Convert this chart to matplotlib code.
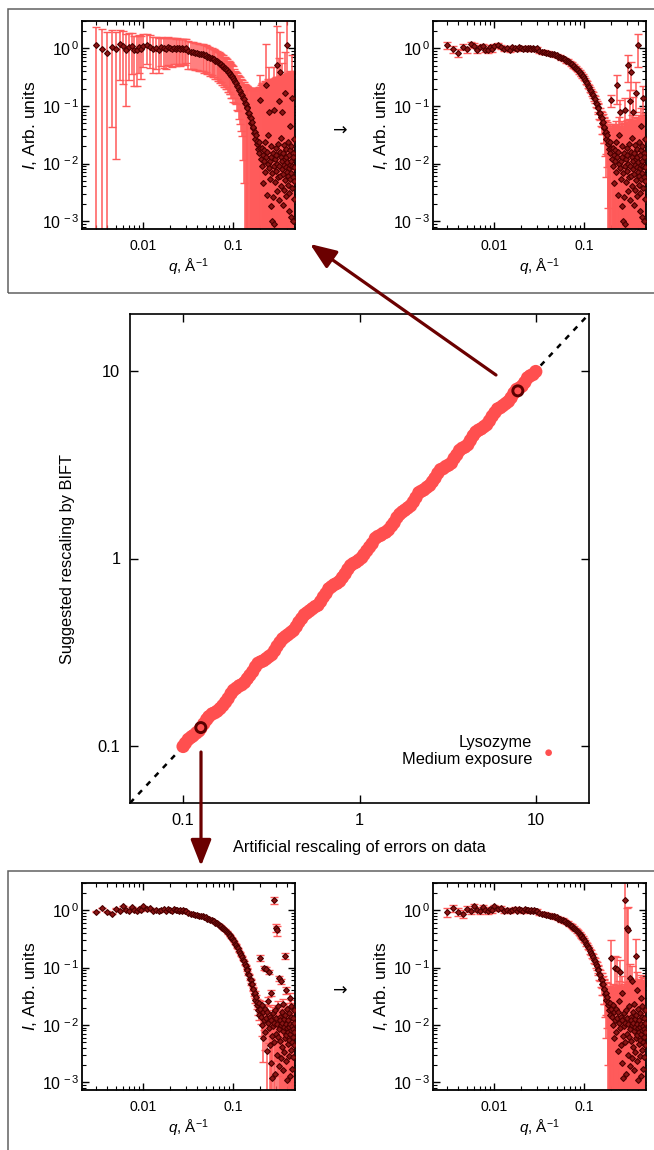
import numpy as np
import matplotlib
matplotlib.use("Agg")
import matplotlib.pyplot as plt
from matplotlib.patches import Rectangle, FancyArrowPatch
from matplotlib.ticker import LogLocator, FixedLocator, FixedFormatter, NullLocator, NullFormatter

plt.rcParams['font.family'] = ['Liberation Sans', 'DejaVu Sans']
plt.rcParams['mathtext.fontset'] = 'custom'
plt.rcParams['mathtext.rm'] = 'Liberation Sans'
plt.rcParams['mathtext.it'] = 'Liberation Sans:italic'

# ---------------- main scatter data ----------------
artificial = [0.100, 0.103, 0.107, 0.111, 0.114, 0.119, 0.123, 0.126, 0.131, 0.136,
              0.140, 0.146, 0.151, 0.156, 0.162, 0.168, 0.174, 0.180, 0.187, 0.193,
              0.200, 0.208, 0.215, 0.223, 0.231, 0.239, 0.248, 0.257, 0.266, 0.276,
              0.286, 0.296, 0.307, 0.318, 0.330, 0.341, 0.354, 0.367, 0.380, 0.393,
              0.408, 0.422, 0.438, 0.453, 0.470, 0.487, 0.504, 0.522, 0.541, 0.561,
              0.581, 0.602, 0.624, 0.646, 0.670, 0.694, 0.719, 0.745, 0.772, 0.800,
              0.829, 0.859, 0.890, 0.922, 0.955, 0.990, 1.03, 1.06, 1.10, 1.14,
              1.18, 1.23, 1.27, 1.32, 1.36, 1.41, 1.46, 1.52, 1.57, 1.63,
              1.69, 1.75, 1.81, 1.88, 1.95, 2.02, 2.09, 2.17, 2.24, 2.32,
              2.41, 2.50, 2.59, 2.68, 2.78, 2.88, 2.98, 3.09, 3.20, 3.32,
              3.44, 3.56, 3.69, 3.82, 3.96, 4.11, 4.25, 4.41, 4.57, 4.73,
              4.90, 5.08, 5.26, 5.45, 5.65, 5.86, 6.07, 6.29, 6.51, 6.75,
              6.99, 7.24, 7.51, 7.78, 8.06, 8.35, 8.65, 8.97, 9.29, 9.63, 9.98]
suggested = [0.100, 0.104, 0.109, 0.112, 0.114, 0.118, 0.121, 0.125, 0.132, 0.139,
             0.144, 0.149, 0.151, 0.154, 0.159, 0.165, 0.172, 0.180, 0.191, 0.199,
             0.204, 0.210, 0.213, 0.219, 0.229, 0.239, 0.250, 0.265, 0.277, 0.282,
             0.286, 0.293, 0.301, 0.308, 0.323, 0.341, 0.358, 0.374, 0.384, 0.393,
             0.404, 0.414, 0.434, 0.458, 0.479, 0.502, 0.514, 0.527, 0.541, 0.555,
             0.564, 0.590, 0.624, 0.652, 0.690, 0.708, 0.726, 0.738, 0.757, 0.792,
             0.829, 0.876, 0.917, 0.940, 0.955, 0.980, 1.01, 1.05, 1.10, 1.15,
             1.20, 1.28, 1.31, 1.33, 1.36, 1.38, 1.42, 1.49, 1.55, 1.65,
             1.72, 1.77, 1.81, 1.86, 1.91, 2.00, 2.11, 2.24, 2.28, 2.32,
             2.39, 2.45, 2.56, 2.68, 2.84, 2.97, 3.01, 3.09, 3.14, 3.22,
             3.41, 3.56, 3.76, 3.86, 3.92, 4.03, 4.25, 4.50, 4.71, 4.82,
             4.90, 5.03, 5.15, 5.40, 5.71, 5.98, 6.25, 6.35, 6.51, 6.68,
             6.85, 7.17, 7.59, 7.94, 8.06, 8.27, 8.65, 9.15, 9.38, 9.53, 9.88]

# highlighted cases: (artificial, suggested)
case_top = (7.9, 7.8)
case_bot = (0.126, 0.126)

# ---------------- SAXS curve data ----------------
q_A = [0.0030, 0.0035, 0.0040, 0.0045, 0.0050, 0.0055, 0.0060, 0.0065, 0.0070, 0.0075,
       0.0080, 0.0085, 0.0090, 0.0095, 0.0100]
q_B = [0.011, 0.012, 0.013, 0.014, 0.015, 0.016, 0.017, 0.018, 0.019, 0.020,
       0.021, 0.022, 0.023, 0.024, 0.025, 0.026, 0.027, 0.028, 0.029, 0.030]
q_C = [0.032, 0.034, 0.036, 0.038, 0.040, 0.042, 0.044, 0.046, 0.048, 0.050,
       0.052, 0.054, 0.056, 0.058, 0.060, 0.062, 0.064, 0.066, 0.068, 0.070,
       0.072, 0.074, 0.076, 0.078, 0.080, 0.082, 0.084, 0.086, 0.088, 0.090,
       0.092, 0.094, 0.096, 0.098, 0.100]
q_D = [0.103, 0.106, 0.109, 0.112, 0.115, 0.118, 0.121, 0.124, 0.127, 0.130,
       0.133, 0.136, 0.139, 0.142, 0.145, 0.148, 0.151, 0.154, 0.157, 0.160,
       0.163, 0.166, 0.169, 0.172, 0.175, 0.178, 0.181, 0.184, 0.187, 0.190,
       0.193, 0.196, 0.199]
q_E = [0.202, 0.205, 0.208, 0.211, 0.214, 0.217, 0.220, 0.223, 0.226, 0.229,
       0.232, 0.235, 0.238, 0.241, 0.244, 0.247, 0.250, 0.253, 0.256, 0.259,
       0.262, 0.265, 0.268, 0.271, 0.274, 0.277, 0.280, 0.283, 0.286, 0.289,
       0.292, 0.295, 0.298, 0.301, 0.304, 0.307, 0.310, 0.313, 0.316, 0.319,
       0.322, 0.325, 0.328, 0.331, 0.334, 0.337, 0.340, 0.343, 0.346, 0.349,
       0.352, 0.355, 0.358, 0.361, 0.364, 0.367, 0.370, 0.373, 0.376, 0.379,
       0.382, 0.385, 0.388, 0.391, 0.394, 0.397, 0.400, 0.403, 0.406, 0.409,
       0.412, 0.415, 0.418, 0.421, 0.424, 0.427, 0.430, 0.433, 0.436, 0.439,
       0.442, 0.445, 0.448, 0.451, 0.454, 0.457, 0.460, 0.463, 0.466, 0.469,
       0.472, 0.475, 0.478, 0.481]

I_top_A = [1.14, 0.97, 0.84, 1.07, 0.96, 1.19, 1.11, 0.93, 1.07, 1.11,
           0.95, 0.93, 1.06, 0.97, 1.12]
I_top_B = [1.17, 1.07, 0.98, 1.02, 0.95, 1.05, 1.00, 0.97, 1.04, 1.01,
           0.99, 1.03, 0.98, 1.02, 1.00, 0.97, 1.01, 0.99, 0.98, 1.00]
I_bot_A = [0.94, 1.10, 0.95, 0.87, 1.07, 0.98, 1.20, 1.03, 0.97, 1.14,
           1.02, 0.96, 1.07, 1.00, 1.17]
I_bot_B = [1.04, 1.10, 0.98, 1.02, 0.96, 1.03, 1.06, 0.99, 1.04, 1.01,
           0.98, 1.05, 1.00, 1.02, 0.97, 1.01, 0.99, 1.00, 0.97, 0.98]
I_C = [0.89, 0.87, 0.87, 0.84, 0.84, 0.81, 0.80, 0.79, 0.76, 0.76,
       0.72, 0.72, 0.68, 0.68, 0.65, 0.645, 0.61, 0.605, 0.575, 0.565,
       0.54, 0.535, 0.50, 0.495, 0.465, 0.46, 0.435, 0.425, 0.395, 0.39,
       0.365, 0.36, 0.335, 0.33, 0.305]
I_D = [0.288, 0.262, 0.252, 0.226, 0.216, 0.193, 0.183, 0.163, 0.156, 0.138,
       0.131, 0.114, 0.108, 0.095, 0.091, 0.077, 0.075, 0.064, 0.062, 0.051,
       0.052, 0.042, 0.043, 0.034, 0.036, 0.027, 0.031, 0.022, 0.025, 0.018,
       0.024, 0.015, 0.019]
I_top_E = [0.125, 0.012, 0.019, 0.009, 0.014, 0.0046, 0.017, 0.011, 0.024, 0.0072,
           0.23, 0.013, 0.0028, 0.016, 0.010, 0.031, 0.0085, 0.078, 0.0055, 0.011,
           0.020, 0.0018, 0.013, 0.0010, 0.0068, 0.015, 0.0026, 0.009, 0.0009, 0.085,
           0.012, 0.0048, 0.019, 0.0075, 0.014, 0.0033, 0.51, 0.010, 0.022, 0.0058,
           0.12, 0.0090, 0.0023, 0.016, 0.39, 0.0062, 0.013, 0.0040, 0.028, 0.0079,
           0.011, 0.080, 0.0019, 0.015, 0.0065, 0.021, 0.0095, 0.0035, 0.012, 0.0052,
           0.17, 0.0088, 0.018, 0.0027, 0.013, 0.0070, 1.14, 0.0105, 0.0042, 0.024,
           0.0060, 0.0015, 0.014, 0.0083, 0.0031, 0.017, 0.0096, 0.0054, 0.045, 0.0012,
           0.011, 0.0068, 0.020, 0.0038, 0.14, 0.0091, 0.0010, 0.015, 0.0058, 0.013,
           0.0024, 0.0087, 0.027, 0.0049]
I_bot_E = [0.15, 0.014, 0.022, 0.010, 0.0165, 0.006, 0.10, 0.012, 0.019, 0.0075,
           0.013, 0.095, 0.0035, 0.017, 0.011, 0.026, 0.085, 0.009, 0.0045, 0.014,
           0.0022, 0.012, 0.036, 0.0065, 0.0012, 0.016, 0.0095, 0.005, 1.5, 0.011,
           0.0014, 0.018, 0.0070, 0.50, 0.013, 0.45, 0.0030, 0.0105, 0.021, 0.0062,
           0.0085, 0.065, 0.0019, 0.014, 0.0052, 0.012, 0.058, 0.0026, 0.0098, 0.017,
           0.0041, 0.011, 0.0016, 0.023, 0.0078, 0.0125, 0.0034, 0.0092, 0.16, 0.0058,
           0.015, 0.0023, 0.0105, 0.0066, 0.040, 0.0011, 0.0088, 0.019, 0.0047, 0.012,
           0.0074, 0.0029, 0.016, 0.0093, 0.0055, 0.030, 0.0013, 0.0105, 0.0069, 0.014,
           0.0037, 0.0082, 0.021, 0.0050, 0.0096, 0.0017, 0.013, 0.0062, 0.0085, 0.0028,
           0.011, 0.0044, 0.0075, 0.018]

# original (unscaled) errors
sig_A = [0.16, 0.15, 0.14, 0.13, 0.12, 0.115, 0.11, 0.105, 0.10, 0.095,
         0.092, 0.09, 0.087, 0.085, 0.082]
sig_B = [0.080, 0.078, 0.076, 0.074, 0.072, 0.070, 0.069, 0.068, 0.066, 0.065,
         0.064, 0.063, 0.062, 0.061, 0.060, 0.060, 0.059, 0.058, 0.058, 0.057]
sig_C = [0.056, 0.055, 0.054, 0.053, 0.052, 0.051, 0.050, 0.049, 0.048, 0.047,
         0.046, 0.045, 0.044, 0.043, 0.042, 0.041, 0.040, 0.039, 0.038, 0.037,
         0.036, 0.035, 0.034, 0.033, 0.032, 0.031, 0.030, 0.029, 0.028, 0.027,
         0.026, 0.025, 0.025, 0.024, 0.024]
sig_D = [0.019, 0.019, 0.018, 0.018, 0.017, 0.017, 0.017, 0.016, 0.016, 0.016,
         0.016, 0.016, 0.016, 0.016, 0.017, 0.017, 0.017, 0.018, 0.018, 0.018,
         0.019, 0.019, 0.020, 0.020, 0.021, 0.021, 0.022, 0.022, 0.023, 0.023,
         0.024, 0.024, 0.025]
sig_top_E = [0.028, 0.028, 0.029, 0.029, 0.030, 0.030, 0.030, 0.031, 0.031, 0.031,
             0.12, 0.032, 0.032, 0.032, 0.033, 0.033, 0.033, 0.05, 0.034, 0.034,
             0.034, 0.035, 0.035, 0.035, 0.035, 0.036, 0.036, 0.036, 0.036, 0.05,
             0.037, 0.037, 0.037, 0.037, 0.038, 0.038, 0.25, 0.038, 0.038, 0.039,
             0.07, 0.039, 0.039, 0.039, 0.20, 0.040, 0.040, 0.040, 0.040, 0.040,
             0.041, 0.06, 0.041, 0.041, 0.041, 0.042, 0.042, 0.042, 0.042, 0.042,
             0.09, 0.043, 0.043, 0.043, 0.043, 0.043, 0.65, 0.044, 0.044, 0.044,
             0.044, 0.044, 0.045, 0.045, 0.045, 0.045, 0.045, 0.046, 0.046, 0.046,
             0.046, 0.046, 0.047, 0.047, 0.08, 0.047, 0.047, 0.048, 0.048, 0.048,
             0.048, 0.049, 0.049, 0.049]
sig_bot_E = [0.15, 0.028, 0.029, 0.029, 0.030, 0.030, 0.06, 0.031, 0.031, 0.031,
             0.032, 0.06, 0.032, 0.032, 0.033, 0.033, 0.05, 0.033, 0.034, 0.034,
             0.034, 0.035, 0.035, 0.035, 0.035, 0.036, 0.036, 0.036, 1.6, 0.036,
             0.037, 0.037, 0.037, 0.6, 0.038, 0.7, 0.038, 0.038, 0.038, 0.039,
             0.039, 0.05, 0.039, 0.039, 0.040, 0.040, 0.05, 0.040, 0.040, 0.040,
             0.041, 0.041, 0.041, 0.041, 0.041, 0.042, 0.042, 0.042, 0.15, 0.042,
             0.043, 0.043, 0.043, 0.043, 0.043, 0.043, 0.044, 0.044, 0.044, 0.044,
             0.044, 0.044, 0.045, 0.045, 0.045, 0.045, 0.045, 0.046, 0.046, 0.046,
             0.046, 0.046, 0.047, 0.047, 0.047, 0.047, 0.047, 0.048, 0.048, 0.048,
             0.048, 0.049, 0.049, 0.049]

q = np.array(q_A + q_B + q_C + q_D + q_E)
I_top = np.array(I_top_A + I_top_B + I_C + I_D + I_top_E)
I_bot = np.array(I_bot_A + I_bot_B + I_C + I_D + I_bot_E)
sig_top = np.array(sig_A + sig_B + sig_C + sig_D + sig_top_E)
sig_bot = np.array(sig_A + sig_B + sig_C + sig_D + sig_bot_E)

# ---------------- styling ----------------
RED = '#ff4f4f'
ERR = '#ff5a5a'
DARK = '#5a0000'
ARROW = '#6b0000'
FS_MAIN = 11.8

W, H = 654, 1150
fig = plt.figure(figsize=(W / 100, H / 100), dpi=100)


def fig_rect(x0, y0, x1, y1):
    """pixel box (top-left origin) -> figure fraction rect"""
    return [x0 / W, 1 - y1 / H, (x1 - x0) / W, (y1 - y0) / H]


# frames
fig.add_artist(Rectangle((8 / W, 1 - 293 / H), 1.0, (293 - 9) / H, transform=fig.transFigure,
                         fill=False, ec='#606060', lw=1.1))
fig.add_artist(Rectangle((8 / W, -0.05), 1.0, 0.05 + 1 - 871 / H, transform=fig.transFigure,
                         fill=False, ec='#606060', lw=1.1))


def small_panel(rect, I, err):
    ax = fig.add_axes(rect)
    lower = np.minimum(err, I * (1 - 1e-6))
    ax.errorbar(q, I, yerr=[lower, err], fmt='none', ecolor=ERR, elinewidth=1.1,
                capsize=2.8, capthick=1.0, zorder=2)
    ax.plot(q, I, ls='none', marker='D', ms=3.0, mfc='#8a1515', mec='#4a0000',
            mew=0.8, zorder=3)
    ax.set_xscale('log')
    ax.set_yscale('log')
    ax.set_xlim(0.0021, 0.49)
    ax.set_ylim(7.3e-4, 3.0)
    ax.xaxis.set_major_locator(FixedLocator([0.01, 0.1]))
    ax.xaxis.set_major_formatter(FixedFormatter(['0.01', '0.1']))
    ax.xaxis.set_minor_locator(LogLocator(base=10, subs=np.arange(2, 10)))
    ax.xaxis.set_minor_formatter(NullFormatter())
    ax.yaxis.set_major_locator(FixedLocator([1e-3, 1e-2, 1e-1, 1e0]))
    ax.yaxis.set_major_formatter(FixedFormatter([r'10$^{\,-3}$', r'10$^{\,-2}$',
                                                 r'10$^{\,-1}$', r'10$^{\,0}$']))
    ax.yaxis.set_minor_locator(LogLocator(base=10, subs=np.arange(2, 10)))
    ax.yaxis.set_minor_formatter(NullFormatter())
    ax.tick_params(which='both', direction='in', top=True, right=True)
    ax.tick_params(which='major', length=5, width=1.0)
    ax.tick_params(which='minor', length=2.8, width=0.8)
    ax.tick_params(axis='x', pad=7, labelsize=10.2)
    ax.tick_params(axis='y', pad=2, labelsize=11.5)
    for s in ax.spines.values():
        s.set_linewidth(1.3)
    ax.set_ylabel(r'$I$, Arb. units', fontsize=12.5, labelpad=2)
    ax.set_xlabel(r'$q$, Å$^{-1}$', fontsize=11, labelpad=3)
    return ax


xt, yt = case_top
xb, yb = case_bot
small_panel(fig_rect(82, 21, 295, 229), I_top, sig_top * xt)
small_panel(fig_rect(433, 21, 646, 229), I_top, sig_top * xt / yt)
small_panel(fig_rect(82, 883, 295, 1090), I_bot, sig_bot * xb)
small_panel(fig_rect(433, 883, 646, 1090), I_bot, sig_bot * xb / yb)

for ypix in (131, 991):
    fig.text(340 / W, 1 - ypix / H, '→', ha='center', va='center', fontsize=12.5,
             family='DejaVu Sans')

# ---------------- main axes ----------------
ax = fig.add_axes(fig_rect(130, 314, 589, 803))
ax.set_xscale('log')
ax.set_yscale('log')
ax.set_xlim(0.05, 20)
ax.set_ylim(0.05, 20)
ax.axline((1, 1), (10, 10), color='black', lw=1.8, ls=(0, (2.2, 2.6)), zorder=1)
ax.scatter(artificial, suggested, s=92, color=RED, edgecolors='none', zorder=2,
           label='Lysozyme\nMedium exposure')
ax.scatter([xt, xb], [yt, yb], s=52, facecolors='none', edgecolors=DARK, linewidths=2.1, zorder=3)
ax.xaxis.set_major_locator(FixedLocator([0.1, 1, 10]))
ax.xaxis.set_major_formatter(FixedFormatter(['0.1', '1', '10']))
ax.yaxis.set_major_locator(FixedLocator([0.1, 1, 10]))
ax.yaxis.set_major_formatter(FixedFormatter(['0.1', '1', '10']))
ax.xaxis.set_minor_locator(NullLocator())
ax.yaxis.set_minor_locator(NullLocator())
ax.tick_params(which='major', direction='in', top=True, right=True, length=6, width=1.0,
               labelsize=FS_MAIN, pad=7)
for s in ax.spines.values():
    s.set_linewidth(1.2)
ax.set_xlabel('Artificial rescaling of errors on data', fontsize=FS_MAIN, labelpad=9)
ax.set_ylabel('Suggested rescaling by BIFT', fontsize=FS_MAIN, labelpad=16)

leg = ax.legend(loc='center right', bbox_to_anchor=((556 - 130) / 459, (803 - 751) / 489),
                frameon=False, markerfirst=False, fontsize=FS_MAIN, handlelength=0.9,
                handletextpad=0.55, borderpad=0, borderaxespad=0, scatterpoints=1,
                markerscale=0.5)
for t in leg.get_texts():
    t.set_multialignment('right')

# ---------------- arrows ----------------
def fig_arrow(p0, p1):
    a = FancyArrowPatch((p0[0] / W, 1 - p0[1] / H), (p1[0] / W, 1 - p1[1] / H),
                        transform=fig.transFigure,
                        arrowstyle='-|>,head_length=16,head_width=6.3', mutation_scale=1,
                        color=ARROW, lw=2.3, shrinkA=0, shrinkB=0, zorder=10)
    fig.add_artist(a)


fig_arrow((496, 375), (310, 244))
fig_arrow((201, 752), (201, 866))

fig.savefig('out.png', dpi=100)
